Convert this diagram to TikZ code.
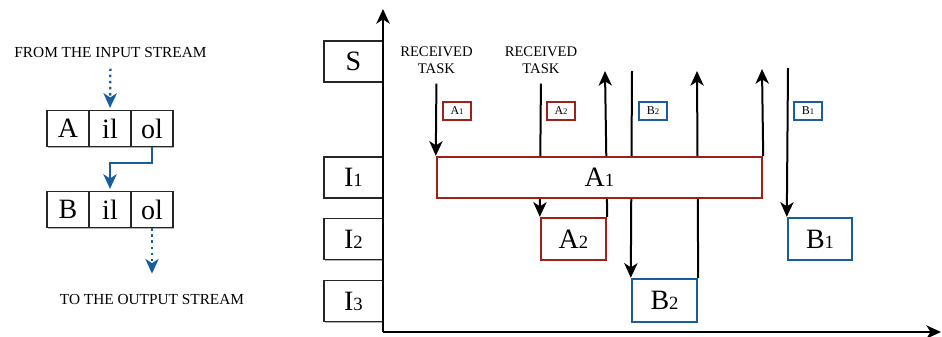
\documentclass[tikz,border=0pt]{standalone}
\usepackage{fontspec}
\setmainfont{Liberation Serif}
\usetikzlibrary{arrows.meta,shadows}
\definecolor{tred}{RGB}{158,32,22}
\definecolor{tblue}{RGB}{24,94,158}
\newcommand\dg[1]{{\fontsize{14}{14}\selectfont #1}}
\newcommand\sdg[1]{{\fontsize{6.5}{6.5}\selectfont #1}}
\begin{document}
\begin{tikzpicture}[x=0.75pt,y=-0.75pt,
  tip/.style={-{Stealth[length=11pt,width=10pt,inset=3.2pt]}},
  shd/.style={drop shadow={shadow xshift=0.9pt,shadow yshift=-0.9pt,opacity=0.3,fill=black}},
  cell/.style={draw=black!85,line width=0.9pt,fill=white,minimum width=31.5pt,minimum height=27pt,inner sep=0pt,font=\fontsize{21}{21}\selectfont,shd},
  lbl/.style={draw=black!85,line width=0.9pt,fill=white,minimum width=44.25pt,minimum height=30.75pt,inner sep=0pt,font=\fontsize{21}{21}\selectfont,shd},
  task/.style={line width=1.8pt,fill=white,inner sep=0pt,font=\fontsize{21}{21}\selectfont,shd},
  small/.style={line width=1.4pt,fill=white,minimum width=21pt,minimum height=13.5pt,inner sep=0pt,font=\fontsize{9}{9}\selectfont,shd},
  captxt/.style={font=\fontsize{11.5}{12.75}\selectfont,align=center,inner sep=0pt},
  rcv/.style={font=\fontsize{11}{12.75}\selectfont,align=center,inner sep=0pt},
  arr/.style={tip,line width=1.5pt,black},
  bl/.style={tip,line width=1.7pt,tblue},
  bldot/.style={bl,dash pattern=on 1.8pt off 2.8pt}
]
\useasboundingbox (0,0) rectangle (942,336);

% ---------- left part ----------
\node[captxt] (in) at (110.5,52.5) {FROM THE INPUT STREAM};
\node[captxt] (out) at (152,299) {TO THE OUTPUT STREAM};
\node[cell] (a)   at (68,128.5)  {A};
\node[cell] (ail) at (110,128.5) {il};
\node[cell] (aol) at (152,128.5) {ol};
\node[cell] (b)   at (68,209.5)  {B};
\node[cell] (bil) at (110,209.5) {il};
\node[cell] (bol) at (152,209.5) {ol};
\draw[bldot,shorten <=8pt,shorten >=1.5pt] (in.south) -- (ail.north);
\draw[bl,shorten >=1.5pt] (aol.south) -- ++(0,16) -| (bil.north);
\draw[bldot,shorten >=15pt] (bol.south) -- (out.north);

% ---------- right part ----------
\coordinate (O) at (383,332);
\coordinate (ytop) at (383,9);
\coordinate (xend) at (941,332);

\node[rcv] (rt1) at (436.5,60.5) {RECEIVED\\TASK};
\node[rcv] (rt2) at (541,60.5) {RECEIVED\\TASK};

\coordinate (u1) at (605,71);
\coordinate (d1) at (632,71);
\coordinate (u2) at (697,71);
\coordinate (u3) at (762,69);
\coordinate (d2) at (788,68);

% task boxes (placed first to name them)
\node[task,draw=tred,minimum width=243.75pt,minimum height=30.75pt] (A1) at (599.5,177.5) {A\dg{1}};
\node[task,draw=tred,minimum width=48.75pt,minimum height=31.5pt] (A2) at (573.5,239) {A\dg{2}};
\node[task,draw=tblue,minimum width=48.75pt,minimum height=32.25pt] (B2) at (664.5,300.5) {B\dg{2}};
\node[task,draw=tblue,minimum width=48pt,minimum height=31.5pt] (B1) at (820,239) {B\dg{1}};

\draw[arr,shorten <=7pt] (rt1.south) -- (A1.north west);
\draw[arr,shorten <=7pt] (rt2.south) -- (A2.north west);
\draw[arr] (A2.north east) -- (u1);
\draw[arr] (d1) -- (B2.north west);
\draw[arr] (B2.north east) -- (u2);
\draw[arr] (A1.north east) -- (u3);
\draw[arr] (d2) -- (B1.north west);

% redraw boxes on top of the connectors
\node[task,draw=tred,minimum width=243.75pt,minimum height=30.75pt] at (A1) {A\dg{1}};
\node[task,draw=tred,minimum width=48.75pt,minimum height=31.5pt] at (A2) {A\dg{2}};
\node[task,draw=tblue,minimum width=48.75pt,minimum height=32.25pt] at (B2) {B\dg{2}};
\node[task,draw=tblue,minimum width=48pt,minimum height=31.5pt] at (B1) {B\dg{1}};

\node[small,draw=tred]  (a1s) at (457,111) {A\sdg{1}};
\node[small,draw=tred]  (a2s) at (561,111) {A\sdg{2}};
\node[small,draw=tblue] (b2s) at (653,111) {B\sdg{2}};
\node[small,draw=tblue] (b1s) at (808,111) {B\sdg{1}};

\node[lbl] (S)  at (353.5,61.5)  {S};
\node[lbl] (I1) at (353.5,177.5) {I\dg{1}};
\node[lbl] (I2) at (353.5,239)   {I\dg{2}};
\node[lbl] (I3) at (353.5,301)   {I\dg{3}};

\draw[arr] (O) -- (ytop);
\draw[arr] (O) -- (xend);
\end{tikzpicture}
\end{document}
